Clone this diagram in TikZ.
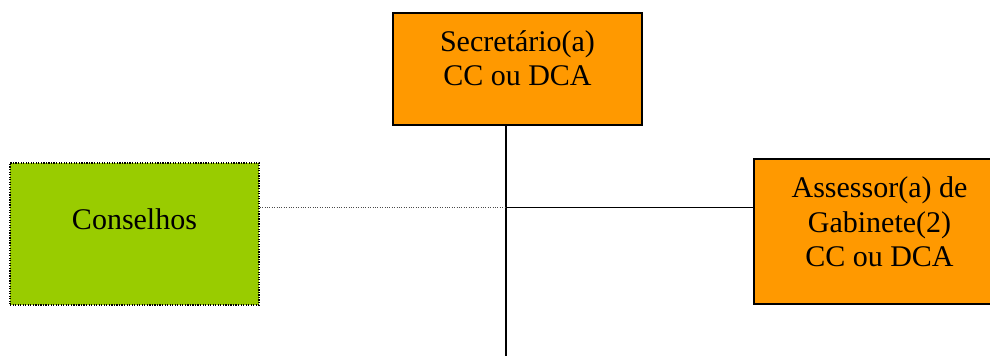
\documentclass[tikz,border=0pt]{standalone}
\usepackage{fontspec}
\setmainfont{Liberation Serif}
\definecolor{boxorange}{HTML}{FF9900}
\definecolor{boxgreen}{HTML}{99CC00}
\begin{document}
\begin{tikzpicture}[x=0.75pt,y=-0.75pt,
  unit/.style={rectangle, draw=black, line width=0.9pt, inner sep=0pt},
  orgbox/.style={unit, fill=boxorange},
  councilbox/.style={unit, fill=boxgreen, densely dotted, line width=1.1pt},
  label text/.style={anchor=base, align=center, inner sep=0pt,
    font=\fontsize{22.5pt}{26pt}\selectfont},
  link/.style={draw=black, line width=0.9pt}]
\useasboundingbox (0,0) rectangle (990,356);

% boxes
\node[orgbox, minimum width=186.75pt, minimum height=84pt] (sec) at (517.5,69) {};
\node[councilbox, minimum width=186.75pt, minimum height=106.5pt] (cons) at (134.5,234) {};
\node[orgbox, minimum width=188.25pt, minimum height=108.75pt] (ass) at (879.5,231.5) {};

% box texts (anchored at the baseline of the last line)
\node[label text] (sectext) at (517.5,86) {Secretário(a)\\CC ou DCA};
\node[label text] (constext) at (134.5,230) {Conselhos};
\node[label text] (asstext) at (879.5,267) {Assessor(a) de\\Gabinete(2)\\CC ou DCA};

% connectors
\coordinate (junction) at (506,207.5);
\coordinate (bottom) at (506,360);
\draw[link] (sec.south -| junction) -- (bottom);
\draw[link] (junction) -- (ass.west |- junction);
\draw[draw=black!70, line width=0.8pt, densely dotted] (cons.east |- junction) -- (junction);
\end{tikzpicture}
\end{document}
